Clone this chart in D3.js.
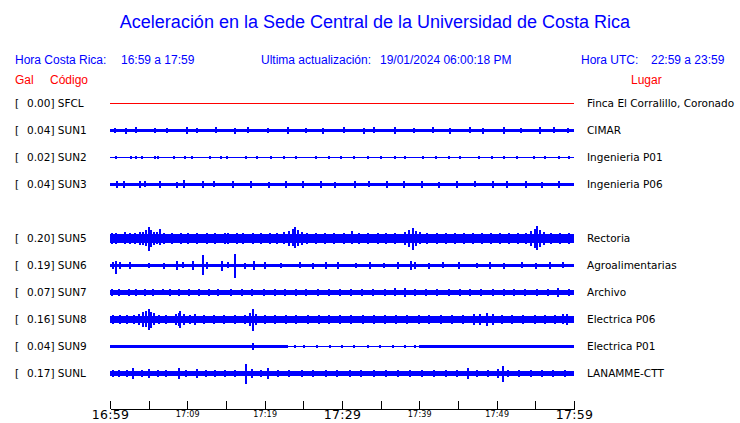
<!DOCTYPE html>
<html><head><meta charset="utf-8">
<script src="https://cdn.jsdelivr.net/npm/d3@7"></script>
<style>
body{margin:0;background:#fff;}
svg{display:block;}
</style></head>
<body>
<svg id="chart" width="740" height="423"></svg>
<script>
// ---------------- DATA ----------------
const titleText = "Aceleración en la Sede Central de la Universidad de Costa Rica";
const horaCR = "16:59 a 17:59";
const horaUTC = "22:59 a 23:59";
const lastUpdate = "19/01/2024 06:00:18 PM";
const startTime = "16:59", endTime = "17:59";
const tickTimes = ["16:59","17:04","17:09","17:14","17:19","17:24","17:29","17:34","17:39","17:44","17:49","17:54","17:59"];
const majorLabels = ["16:59","17:29","17:59"];
const minorLabels = ["17:09","17:19","17:39","17:49"];
// order of channel slots (SUN4 has no trace in this image)
const slotCodes = ["SFCL","SUN1","SUN2","SUN3","SUN4","SUN5","SUN6","SUN7","SUN8","SUN9","SUNL"];
const codes  = ["SFCL","SUN1","SUN2","SUN3","SUN5","SUN6","SUN7","SUN8","SUN9","SUNL"];
const peakGal = [0.00,0.04,0.02,0.04,0.20,0.19,0.07,0.16,0.04,0.17];
const places = ["Finca El Corralillo, Coronado","CIMAR","Ingenieria P01","Ingenieria P06","Rectoria","Agroalimentarias","Archivo","Electrica P06","Electrica P01","LANAMME-CTT"];
// background noise level (gal) as [fromMinute, toMinute, halfAmplitude]
const baseSFCL = [[0,60,0]];
const baseSUN1 = [[0,60,0.024]];
const baseSUN2 = [[0,60,0.008]];
const baseSUN3 = [[0,60,0.024]];
const baseSUN5 = [[0,60,0.064]];
const baseSUN6 = [[0,60,0.024]];
const baseSUN7 = [[0,60,0.03]];
const baseSUN8 = [[0,60,0.048]];
const baseSUN9 = [[0,23,0.02],[23,40,0.008],[40,60,0.02]];
const baseSUNL = [[0,60,0.03]];
// peaks (gal) as [minute after 16:59, up, down]
const peaksSFCL = [];
const peaksSUN1 = [[0.6,.042,.04],[2.1,.04,.045],[3.3,.045,.04],[5.8,.04,.042],[7.4,.042,.04],[9.9,.045,.045],[11.2,.04,.04],[13.7,.043,.04],[16.1,.04,.046],[17.9,.045,.04],[20.4,.04,.042],[23.0,.046,.045],[25.3,.04,.04],[27.6,.042,.044],[30.2,.045,.04],[32.8,.04,.045],[34.1,.043,.04],[36.9,.045,.046],[39.3,.04,.04],[41.8,.044,.042],[44.0,.04,.045],[46.5,.046,.04],[48.2,.04,.043],[50.9,.045,.045],[53.1,.04,.04],[55.6,.043,.046],[57.4,.045,.04],[59.2,.04,.042]];
const peaksSUN2 = [[0.8,.025,.02],[2.7,.02,.025],[3.4,.025,.025],[4.1,.02,.02],[5.8,.025,.02],[6.2,.02,.025],[8.3,.025,.025],[9.7,.02,.02],[10.6,.025,.02],[12.9,.02,.025],[14.3,.025,.02],[15.1,.02,.02],[17.6,.025,.025],[19.0,.02,.02],[20.8,.025,.02],[22.5,.02,.025],[24.1,.025,.025],[26.7,.02,.02],[28.3,.025,.02],[29.9,.02,.025],[31.6,.025,.025],[33.4,.02,.02],[35.0,.025,.025],[36.8,.02,.02],[38.2,.025,.02],[40.5,.02,.025],[42.1,.025,.025],[43.9,.02,.02],[45.3,.025,.02],[47.7,.02,.025],[49.4,.025,.025],[51.0,.02,.02],[52.6,.025,.02],[54.8,.02,.025],[56.3,.025,.025],[58.0,.02,.02],[59.4,.025,.02]];
const peaksSUN3 = [[0.9,.05,.045],[1.8,.045,.05],[3.9,.05,.05],[4.5,.045,.04],[6.5,.05,.045],[8.6,.04,.05],[9.6,.06,.05],[12.0,.045,.045],[13.4,.05,.04],[15.9,.045,.05],[18.2,.05,.05],[20.5,.04,.045],[22.8,.05,.045],[24.9,.045,.05],[27.3,.05,.05],[29.1,.04,.045],[31.7,.05,.05],[33.5,.045,.04],[35.8,.05,.045],[38.0,.045,.05],[40.4,.05,.05],[42.6,.04,.045],[44.9,.05,.05],[47.2,.045,.04],[49.5,.05,.05],[51.3,.045,.05],[53.8,.05,.045],[55.9,.04,.05],[58.1,.05,.05]];
const peaksSUN5 = [[0.3,.09,.085],[0.8,.085,.09],[1.9,.1,.08],[2.6,.08,.085],[3.2,.09,.09],[3.9,.1,.1],[4.3,.11,.1],[4.6,.13,.12],[5.0,.18,.21],[5.3,.14,.13],[5.7,.11,.1],[6.1,.1,.09],[6.5,.15,.1],[7.0,.09,.085],[8.0,.085,.09],[9.2,.09,.08],[10.1,.09,.09],[11.3,.08,.085],[12.5,.09,.09],[13.6,.085,.08],[14.9,.09,.09],[15.3,.085,.09],[16.4,.08,.085],[17.2,.09,.08],[18.5,.085,.09],[19.5,.09,.085],[20.7,.08,.08],[21.6,.09,.09],[22.5,.1,.09],[23.1,.12,.11],[23.6,.15,.12],[23.9,.18,.15],[24.3,.13,.12],[24.8,.1,.1],[25.5,.09,.085],[26.6,.085,.09],[27.8,.09,.08],[29.0,.08,.085],[30.2,.09,.09],[31.3,.12,.09],[32.2,.085,.08],[33.4,.09,.09],[34.6,.08,.085],[35.7,.09,.08],[36.9,.085,.09],[38.2,.1,.1],[38.7,.13,.13],[39.2,.17,.18],[39.6,.12,.12],[40.1,.1,.09],[41.0,.085,.09],[42.3,.09,.085],[43.5,.08,.08],[44.6,.09,.09],[45.8,.085,.085],[47.0,.09,.08],[48.1,.08,.09],[49.3,.09,.085],[50.4,.085,.08],[51.6,.09,.09],[52.7,.08,.085],[53.8,.09,.09],[54.5,.12,.11],[54.9,.16,.15],[55.2,.2,.18],[55.6,.14,.13],[56.1,.1,.1],[57.0,.09,.085],[58.2,.085,.09],[59.3,.09,.09]];
const peaksSUN6 = [[0.4,.05,.05],[0.8,.07,.13],[1.3,.045,.05],[2.6,.05,.05],[5.1,.04,.04],[7.0,.04,.045],[8.7,.07,.065],[9.4,.045,.04],[10.7,.07,.07],[12.0,.17,.15],[12.6,.05,.05],[14.5,.06,.09],[15.2,.045,.04],[16.2,.19,.2],[17.4,.04,.045],[18.6,.06,.06],[20.0,.045,.045],[22.1,.04,.04],[24.6,.045,.04],[26.3,.04,.045],[27.9,.045,.045],[29.5,.05,.055],[31.8,.04,.04],[33.6,.045,.045],[35.4,.04,.04],[37.2,.045,.05],[38.9,.07,.06],[39.5,.05,.05],[41.3,.04,.045],[43.0,.045,.04],[45.1,.05,.055],[47.4,.04,.04],[49.2,.045,.045],[51.0,.04,.045],[53.3,.045,.04],[55.1,.04,.045],[56.9,.05,.05],[58.6,.045,.04]];
const peaksSUN7 = [[0.3,.05,.045],[1.2,.045,.05],[2.4,.05,.05],[3.3,.055,.05],[4.5,.045,.045],[5.6,.05,.055],[6.8,.045,.04],[7.7,.05,.05],[8.9,.055,.05],[10.2,.045,.05],[11.5,.05,.045],[12.8,.05,.05],[14.0,.045,.045],[15.6,.055,.05],[17.1,.05,.05],[18.4,.045,.05],[19.9,.05,.045],[21.3,.05,.05],[22.6,.045,.045],[24.0,.05,.055],[25.4,.045,.045],[26.9,.05,.05],[28.3,.055,.05],[29.7,.045,.045],[31.1,.05,.05],[32.6,.045,.05],[34.0,.05,.045],[35.5,.05,.05],[36.8,.06,.055],[38.1,.07,.07],[39.4,.05,.05],[40.9,.045,.045],[42.3,.05,.05],[43.8,.055,.05],[45.2,.045,.045],[46.6,.05,.05],[48.0,.045,.05],[49.5,.05,.045],[50.9,.05,.05],[52.3,.045,.045],[53.7,.05,.05],[55.2,.055,.05],[56.6,.05,.05],[57.9,.065,.07],[59.3,.05,.045]];
const peaksSUN8 = [[0.4,.07,.065],[1.3,.065,.07],[2.2,.07,.07],[3.1,.075,.07],[3.8,.09,.085],[4.3,.12,.12],[4.7,.13,.12],[5.0,.17,.17],[5.3,.12,.13],[5.7,.1,.09],[6.4,.075,.07],[7.3,.07,.075],[8.5,.08,.08],[8.9,.1,.1],[9.1,.13,.13],[9.6,.09,.09],[10.3,.075,.07],[11.0,.08,.08],[12.2,.07,.07],[13.5,.065,.07],[14.8,.07,.065],[16.1,.07,.07],[17.4,.075,.07],[18.1,.1,.1],[18.5,.17,.19],[18.9,.09,.09],[20.0,.07,.07],[21.4,.065,.07],[22.8,.07,.065],[24.1,.07,.07],[25.6,.065,.07],[27.0,.07,.07],[28.3,.065,.065],[29.8,.07,.07],[31.2,.065,.07],[32.7,.07,.065],[34.1,.07,.07],[35.5,.065,.07],[37.0,.07,.07],[38.4,.075,.07],[39.9,.07,.065],[41.3,.065,.07],[42.8,.07,.07],[44.2,.07,.065],[45.6,.075,.07],[47.1,.08,.08],[47.9,.09,.085],[48.8,.1,.1],[49.5,.085,.09],[50.7,.07,.07],[52.0,.065,.07],[53.4,.07,.07],[54.9,.07,.065],[56.2,.065,.07],[57.6,.075,.07],[58.6,.08,.075],[59.1,.085,.085]];
const peaksSUN9 = [[2.5,.025,.025],[6.1,.025,.02],[10.4,.02,.025],[14.2,.025,.025],[18.5,.05,.05],[20.8,.025,.02],[23.9,.02,.025],[25.1,.025,.025],[26.8,.02,.02],[28.4,.025,.025],[30.0,.02,.02],[31.5,.025,.02],[33.3,.02,.025],[34.9,.025,.025],[36.6,.02,.02],[38.2,.025,.025],[39.4,.02,.02],[43.7,.025,.025],[47.3,.02,.025],[51.6,.025,.02],[55.0,.025,.025],[58.4,.02,.02]];
const peaksSUNL = [[0.4,.05,.05],[1.2,.045,.05],[2.2,.05,.045],[3.0,.08,.08],[4.1,.05,.05],[5.0,.07,.07],[6.2,.05,.045],[7.3,.045,.05],[8.9,.08,.08],[9.8,.05,.05],[11.3,.065,.065],[12.4,.045,.05],[13.6,.05,.045],[14.9,.05,.05],[16.2,.045,.05],[17.6,.15,.17],[18.3,.06,.06],[19.5,.05,.05],[20.4,.08,.08],[21.7,.05,.045],[23.2,.045,.05],[24.8,.05,.05],[26.3,.05,.045],[27.9,.045,.05],[29.4,.05,.05],[31.0,.045,.045],[32.5,.05,.05],[34.1,.045,.05],[35.7,.05,.045],[37.2,.05,.05],[38.8,.045,.045],[40.3,.05,.05],[41.9,.045,.05],[43.4,.05,.045],[44.9,.055,.05],[46.3,.08,.08],[47.4,.05,.05],[48.9,.045,.045],[50.2,.06,.06],[50.8,.12,.14],[51.5,.05,.05],[52.9,.05,.045],[54.4,.045,.05],[55.9,.05,.05],[57.3,.045,.045],[58.8,.05,.05]];

const bases = [baseSFCL,baseSUN1,baseSUN2,baseSUN3,baseSUN5,baseSUN6,baseSUN7,baseSUN8,baseSUN9,baseSUNL];
const peaks = [peaksSFCL,peaksSUN1,peaksSUN2,peaksSUN3,peaksSUN5,peaksSUN6,peaksSUN7,peaksSUN8,peaksSUN9,peaksSUNL];
const stations = codes.map((c,i)=>({code:c, gal:peakGal[i], place:places[i], base:bases[i], peaks:peaks[i]}));

// ---------------- CHART ----------------
const svg = d3.select("#chart");
const BLUE = "#0000ff", RED = "#ff0000";
const sans = "'Liberation Sans', Arial, sans-serif";
const dv = "'DejaVu Sans', sans-serif";
const parse = d3.timeParse("%H:%M");
const fmt = d3.timeFormat("%H:%M");
const t0 = parse(startTime), t1 = parse(endTime);
const atMin = m => new Date(t0.getTime() + m*60000);

const x = d3.scaleTime().domain([t0,t1]).range([110,574]);
const row = d3.scalePoint().domain(slotCodes).range([103,373]);
const amp = d3.scaleLinear().domain([-0.22,0.22]).range([13,-13]);
const yTop = v => Math.round(amp(v));
const yBot = v => Math.round(amp(-v)) + 1;

// title
svg.append("text").attr("x",375).attr("y",28).attr("text-anchor","middle")
  .attr("font-family",sans).attr("font-size",18).attr("fill",BLUE).text(titleText);

// header
const hdr = (tx,xx,yy,col)=>svg.append("text").attr("x",xx).attr("y",yy)
  .attr("font-family",sans).attr("font-size",12).attr("fill",col).text(tx);
hdr("Hora Costa Rica:",15,64,BLUE);
hdr(horaCR,121,64,BLUE);
hdr("Ultima actualización:",261,64,BLUE);
hdr(lastUpdate,380,64,BLUE);
hdr("Hora UTC:",581,64,BLUE);
hdr(horaUTC,651,64,BLUE);
hdr("Gal",15,84,RED);
hdr("Código",50,84,RED);
hdr("Lugar",631,84,RED);

// rows
const g = svg.selectAll("g.st").data(stations).join("g").attr("class","st")
  .attr("transform",d=>`translate(0,${row(d.code)})`);

const lab = (sel,xx,fn)=>sel.append("text").attr("x",xx).attr("y",4).attr("font-family",dv)
  .attr("font-size",10.5).attr("fill","#000").text(fn);
lab(g,15,()=> "[");
lab(g,27,d=>d3.format(".2f")(d.gal)+"] "+d.code);
lab(g,587,d=>d.place);

g.each(function(d){
  const col = d.code==="SFCL" ? RED : BLUE;
  const gg = d3.select(this).append("g").attr("shape-rendering","crispEdges");
  gg.append("rect").attr("x",x(t0)).attr("width",x(t1)-x(t0)).attr("y",0).attr("height",1).attr("fill",col);
  gg.selectAll("rect.base").data(d.base.filter(b=>b[2]>0.01)).join("rect").attr("class","base")
    .attr("x",b=>Math.round(x(atMin(b[0])))).attr("width",b=>Math.round(x(atMin(b[1])))-Math.round(x(atMin(b[0]))))
    .attr("y",b=>yTop(b[2])).attr("height",b=>yBot(b[2])-yTop(b[2]))
    .attr("fill",col);
  gg.selectAll("rect.pk").data(d.peaks).join("rect").attr("class","pk")
    .attr("x",p=>Math.round(x(atMin(p[0])))-1).attr("width",2)
    .attr("y",p=>yTop(p[1])).attr("height",p=>yBot(p[2])-yTop(p[1]))
    .attr("fill",col);
});

// time axis
const axis = d3.axisBottom(x).tickValues(tickTimes.map(parse))
  .tickSizeInner(-8).tickSizeOuter(0).tickPadding(3)
  .tickFormat(d=>{const s=fmt(d); return (majorLabels.includes(s)||minorLabels.includes(s))?s:"";});
const ax = svg.append("g").attr("transform","translate(0,409)").call(axis);
ax.selectAll("path,line").attr("shape-rendering","crispEdges");
ax.select(".domain").attr("stroke","#000");
ax.selectAll(".tick line").attr("stroke","#000");
const isMajor = d=>majorLabels.includes(fmt(d));
ax.selectAll(".tick text").attr("fill","#000").attr("font-family",dv)
  .attr("dy",null)
  .attr("y",d=>isMajor(d)?10:8)
  .attr("font-size",d=>isMajor(d)?12.5:8)
  .attr("letter-spacing",d=>isMajor(d)?"0.3px":"0.2px");
</script>
</body></html>
